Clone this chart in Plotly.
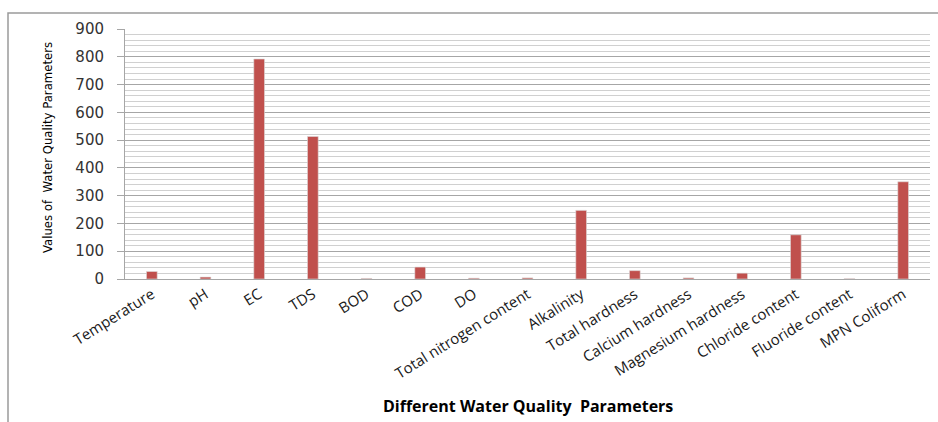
import plotly.graph_objects as go

categories = ["Temperature", "pH", "EC", "TDS", "BOD", "COD", "DO",
              "Total nitrogen content", "Alkalinity", "Total hardness",
              "Calcium hardness", "Magnesium hardness", "Chloride content",
              "Fluoride content", "MPN Coliform"]
values = [27, 7, 792, 513, 2, 43, 3, 4, 247, 30, 4, 21, 159, 1, 350]
y_ticks = [0, 100, 200, 300, 400, 500, 600, 700, 800, 900]

L, R, T, B = 125, 8, 29, 143
W, H = 938, 422
pw, ph = W - L - R, H - T - B

fig = go.Figure()
fig.add_trace(go.Bar(
    x=categories, y=values,
    marker=dict(color="#C0504D", line=dict(color="#DCDCDC", width=0.6)),
    width=0.2,
))

fig.update_layout(
    width=W, height=H,
    margin=dict(l=L, r=R, t=T, b=B),
    paper_bgcolor="white", plot_bgcolor="white",
    showlegend=False,
    font=dict(family="Liberation Sans", color="#000000"),
    xaxis=dict(
        tickangle=-32, tickfont=dict(size=15, family="Open Sans", color="#1a1a1a"),
        showgrid=False, showline=True, linecolor="#A6A6A6", linewidth=1,
        ticks="", range=[-0.5, 14.5], automargin=False,
    ),
    yaxis=dict(
        range=[0, 900], tickvals=y_ticks, ticktext=[str(v) for v in y_ticks],
        tickfont=dict(size=15, family="DejaVu Sans", color="#333333"),
        showgrid=True, gridcolor="#A6A6A6", gridwidth=1,
        minor=dict(dtick=20, showgrid=True, gridcolor="#D0D0D0", gridwidth=1),
        showline=True, linecolor="#A6A6A6", linewidth=1,
        ticks="outside", ticklen=7, tickcolor="#A6A6A6",
        ticklabelstandoff=10,
        automargin=False,
    ),
    annotations=[
        dict(text="<b>Different Water Quality  Parameters</b>",
             xref="paper", yref="paper", x=0.5, y=(T + ph - 406) / ph,
             xanchor="center", yanchor="middle", showarrow=False,
             font=dict(size=16, family="Open Sans", color="#000000")),
        dict(text="Values of  Water Quality Parameters",
             xref="paper", yref="paper", x=(47 - L) / pw, y=(T + ph - 148) / ph,
             xanchor="center", yanchor="middle", showarrow=False, textangle=-90,
             font=dict(size=13, family="DejaVu Sans Condensed", color="#000000")),
    ],
)

fig.add_shape(type="rect", xref="paper", yref="paper",
              x0=(8 - L) / pw, x1=1.05, y0=-2, y1=(T + ph - 13) / ph,
              line=dict(color="#9A9A9A", width=1.5), layer="below")

fig.write_html("out.html",
               config={"displayModeBar": False, "staticPlot": True},
               post_script="document.body.style.margin='0';document.body.style.overflow='hidden';")
